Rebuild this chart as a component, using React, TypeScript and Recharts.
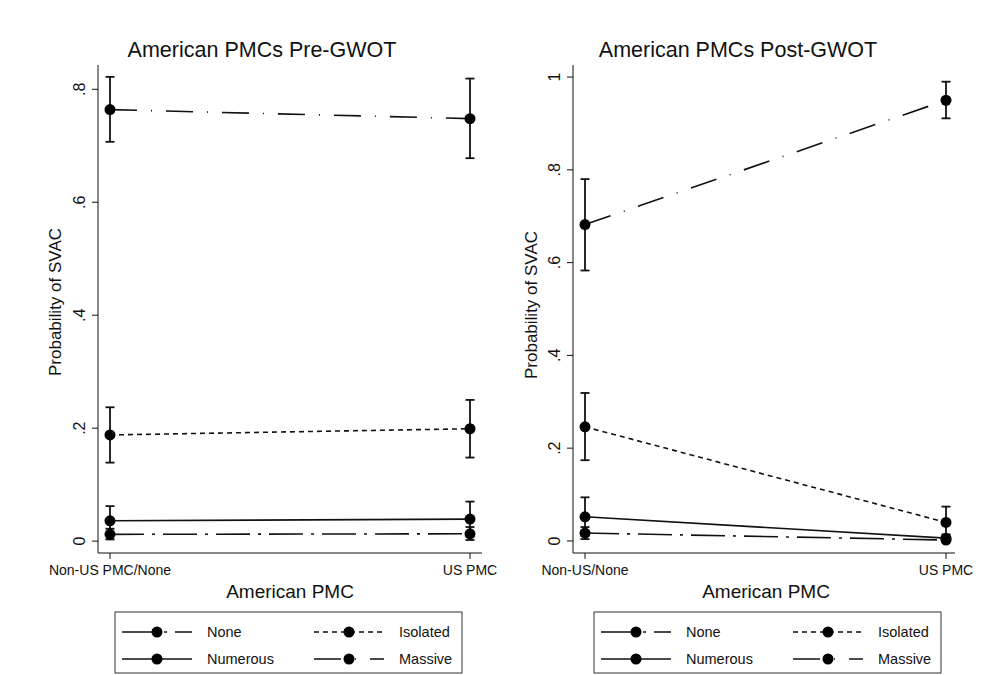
import { CartesianGrid, ErrorBar, Line, LineChart, XAxis, YAxis } from 'recharts';

// categories
const preCategories = ['Non-US PMC/None', 'US PMC'];
const postCategories = ['Non-US/None', 'US PMC'];

// Pre-GWOT predicted probabilities and 95% CIs
const preNone = [0.012, 0.013];
const preNoneLo = [0.003, 0.002];
const preNoneHi = [0.022, 0.025];
const preIsolated = [0.188, 0.199];
const preIsolatedLo = [0.139, 0.148];
const preIsolatedHi = [0.237, 0.25];
const preNumerous = [0.036, 0.039];
const preNumerousLo = [0.011, 0.008];
const preNumerousHi = [0.062, 0.07];
const preMassive = [0.764, 0.748];
const preMassiveLo = [0.707, 0.678];
const preMassiveHi = [0.822, 0.819];

// Post-GWOT
const postNone = [0.017, 0.002];
const postNoneLo = [0.004, 0.0];
const postNoneHi = [0.03, 0.006];
const postIsolated = [0.246, 0.04];
const postIsolatedLo = [0.174, 0.006];
const postIsolatedHi = [0.319, 0.074];
const postNumerous = [0.052, 0.006];
const postNumerousLo = [0.011, 0.0];
const postNumerousHi = [0.094, 0.014];
const postMassive = [0.682, 0.95];
const postMassiveLo = [0.583, 0.911];
const postMassiveHi = [0.78, 0.99];

const preTicks = [0, 0.2, 0.4, 0.6, 0.8];
const postTicks = [0, 0.2, 0.4, 0.6, 0.8, 1];

const FONT = '"Liberation Sans", Arial, Helvetica, sans-serif';
const INK = '#111';

const styles = {
  none: '34 8 3 8',
  isolated: '5 4',
  numerous: undefined as string | undefined,
  massive: '27 14 1 14',
};

const legendItems = [
  { name: 'None', dash: styles.none },
  { name: 'Isolated', dash: styles.isolated },
  { name: 'Numerous', dash: styles.numerous },
  { name: 'Massive', dash: styles.massive },
];

const err = (v: number[], lo: number[], hi: number[], i: number) => [v[i] - lo[i], hi[i] - v[i]];

const buildRows = (
  cats: string[],
  none: number[][], isolated: number[][], numerous: number[][], massive: number[][],
) =>
  cats.map((cat, i) => ({
    cat,
    none: none[0][i],
    noneErr: err(none[0], none[1], none[2], i),
    isolated: isolated[0][i],
    isolatedErr: err(isolated[0], isolated[1], isolated[2], i),
    numerous: numerous[0][i],
    numerousErr: err(numerous[0], numerous[1], numerous[2], i),
    massive: massive[0][i],
    massiveErr: err(massive[0], massive[1], massive[2], i),
  }));

const preData = buildRows(
  preCategories,
  [preNone, preNoneLo, preNoneHi],
  [preIsolated, preIsolatedLo, preIsolatedHi],
  [preNumerous, preNumerousLo, preNumerousHi],
  [preMassive, preMassiveLo, preMassiveHi],
);
const postData = buildRows(
  postCategories,
  [postNone, postNoneLo, postNoneHi],
  [postIsolated, postIsolatedLo, postIsolatedHi],
  [postNumerous, postNumerousLo, postNumerousHi],
  [postMassive, postMassiveLo, postMassiveHi],
);

const fmtTick = (v: number) => {
  if (v === 0) return '0';
  if (v === 1) return '1';
  return String(Math.round(v * 10) / 10).replace(/^0/, '');
};

// Stata-style rotated y tick labels
const RotatedTick = (props: any) => {
  const { x, y, payload } = props;
  return (
    <text
      x={x}
      y={y}
      transform={`rotate(-90 ${x} ${y})`}
      textAnchor="middle"
      fontSize={16}
      fontFamily={FONT}
      fill={INK}
    >
      {fmtTick(payload.value)}
    </text>
  );
};

const seriesKeys: (keyof typeof styles)[] = ['none', 'isolated', 'numerous', 'massive'];

const Panel = ({
  data, domain, ticks, width, marginLeft, marginRight, padRight,
}: {
  data: any[]; domain: number[]; ticks: number[]; width: number;
  marginLeft: number; marginRight: number; padRight: number;
}) => (
  <LineChart
    width={width}
    height={620}
    data={data}
    margin={{ top: 65, right: marginRight, bottom: 27, left: marginLeft }}
  >
    <CartesianGrid stroke="none" />
    <XAxis
      dataKey="cat"
      height={40}
      padding={{ left: 12, right: padRight }}
      tickSize={6}
      tickMargin={6}
      stroke={INK}
      tick={{ fill: INK, fontSize: 14, fontFamily: FONT }}
      interval={0}
    />
    <YAxis
      type="number"
      domain={domain}
      ticks={ticks}
      allowDataOverflow
      width={60}
      tickSize={6}
      tickMargin={7}
      stroke={INK}
      tick={RotatedTick}
    />
    {seriesKeys.map((k) => (
      <Line
        key={k}
        dataKey={k}
        stroke={INK}
        strokeWidth={1.6}
        strokeDasharray={styles[k]}
        dot={{ r: 5.5, fill: '#000', stroke: '#000', strokeWidth: 0 }}
        activeDot={false}
        isAnimationActive={false}
      >
        <ErrorBar dataKey={`${k}Err`} width={4.5} stroke={INK} strokeWidth={1.8} direction="y" />
      </Line>
    ))}
  </LineChart>
);

const Legend = ({ left }: { left: number }) => {
  const top = 612;
  return (
    <g>
      <rect x={left} y={top} width={347} height={61} fill="#fff" stroke="#333" strokeWidth={1} />
      {legendItems.map((it, i) => {
        const col = i % 2;
        const row = Math.floor(i / 2);
        const x0 = left + (col === 0 ? 7 : 199);
        const cy = top + (row === 0 ? 20 : 47);
        return (
          <g key={it.name}>
            <line x1={x0} x2={x0 + 70} y1={cy} y2={cy} stroke={INK} strokeWidth={1.6} strokeDasharray={it.dash} />
            <circle cx={x0 + 35} cy={cy} r={5.5} fill="#000" />
            <text x={x0 + 85} y={cy + 5} fontSize={14.5} fontFamily={FONT} fill={INK}>
              {it.name}
            </text>
          </g>
        );
      })}
    </g>
  );
};

export default function App() {
  return (
    <div style={{ position: 'absolute', left: 0, top: 0, width: 983, height: 675, background: '#fff' }}>
      <div style={{ position: 'absolute', left: 0, top: 0 }}>
        <Panel data={preData} domain={[-0.021, 0.843]} ticks={preTicks} width={500} marginLeft={38} marginRight={18} padRight={12} />
      </div>
      <div style={{ position: 'absolute', left: 490, top: 0 }}>
        <Panel data={postData} domain={[-0.026, 1.026]} ticks={postTicks} width={493} marginLeft={23} marginRight={28} padRight={9} />
      </div>
      <svg width={983} height={675} style={{ position: 'absolute', left: 0, top: 0, pointerEvents: 'none' }}>
        <text x={262} y={57} textAnchor="middle" fontSize={21.5} fontFamily={FONT} fill={INK}>American PMCs Pre-GWOT</text>
        <text x={738} y={57} textAnchor="middle" fontSize={21.5} fontFamily={FONT} fill={INK}>American PMCs Post-GWOT</text>
        <text x={61} y={302} transform="rotate(-90 61 302)" textAnchor="middle" fontSize={17} fontFamily={FONT} fill={INK}>Probability of SVAC</text>
        <text x={537} y={305} transform="rotate(-90 537 305)" textAnchor="middle" fontSize={17} fontFamily={FONT} fill={INK}>Probability of SVAC</text>
        <text x={290} y={598} textAnchor="middle" fontSize={19} fontFamily={FONT} fill={INK}>American PMC</text>
        <text x={766} y={598} textAnchor="middle" fontSize={19} fontFamily={FONT} fill={INK}>American PMC</text>
        <Legend left={115} />
        <Legend left={594} />
      </svg>
    </div>
  );
}
